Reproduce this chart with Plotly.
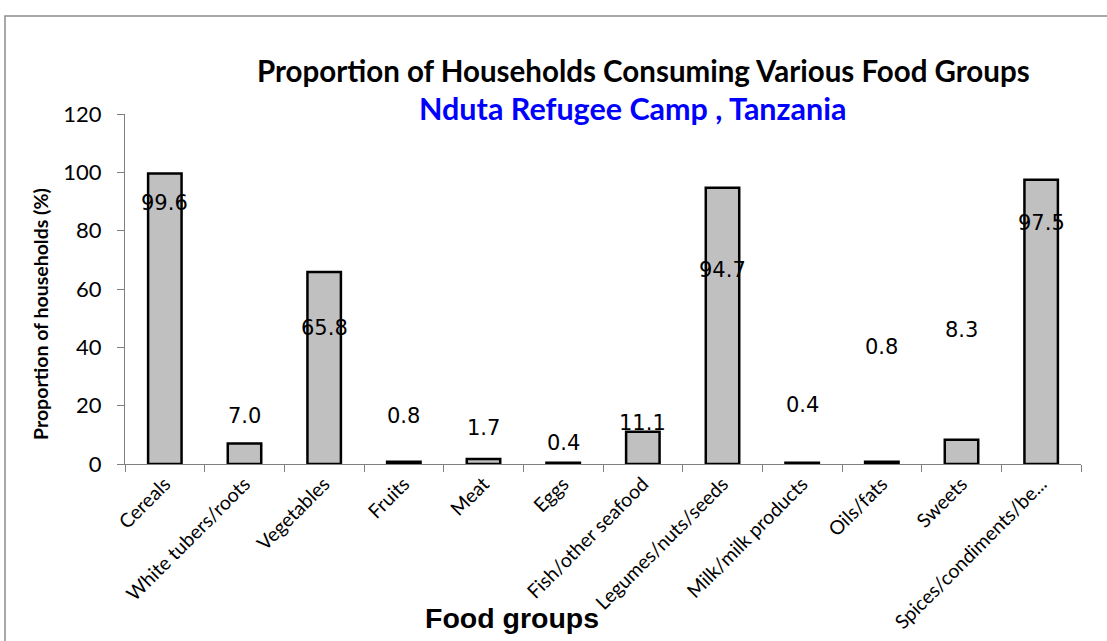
import plotly.graph_objects as go

# Food groups and share of households consuming each (%)
food_groups = [
    "Cereals", "White tubers/roots", "Vegetables", "Fruits", "Meat", "Eggs",
    "Fish/other seafood", "Legumes/nuts/seeds", "Milk/milk products",
    "Oils/fats", "Sweets", "Spices/condiments/be...",
]
proportion = [99.6, 7.0, 65.8, 0.8, 1.7, 0.4, 11.1, 94.7, 0.4, 0.8, 8.3, 97.5]

# Vertical placement of each value label, in axis units
label_y = [89.5, 16.3, 46.6, 16.3, 12.3, 7.2, 14.0, 66.5, 20.2, 40.1, 45.9, 82.6]

W, H = 1107, 641
L, R, T, B = 125, 26, 114, 177
PW, PH = W - L - R, H - T - B


def px_x(p):
    return (p - L) / PW


def px_y(p):
    return (H - B - p) / PH


CAL = "Lato, Calibri, Carlito, sans-serif"

fig = go.Figure(
    go.Bar(
        x=food_groups,
        y=proportion,
        marker=dict(color="#C0C0C0", line=dict(color="black", width=2.5)),
        width=0.42,
        hoverinfo="x+y",
    )
)

annotations = [
    dict(x=g, y=ly, xref="x", yref="y", text=f"{v:.1f}", showarrow=False,
         font=dict(family="DejaVu Sans", size=21, color="black"))
    for g, v, ly in zip(food_groups, proportion, label_y)
]
annotations += [
    dict(x=px_x(643), y=px_y(70), xref="paper", yref="paper", showarrow=False,
         xanchor="center", yanchor="middle",
         text="<b>Proportion of Households Consuming Various Food Groups</b>",
         font=dict(family=CAL, size=29.5, color="black")),
    dict(x=px_x(633), y=px_y(108), xref="paper", yref="paper", showarrow=False,
         xanchor="center", yanchor="middle",
         text="<b>Nduta Refugee Camp , Tanzania</b>",
         font=dict(family=CAL, size=30.5, color="#0000FF")),
    dict(x=px_x(512), y=px_y(618), xref="paper", yref="paper", showarrow=False,
         xanchor="center", yanchor="middle",
         text="<b>Food groups</b>",
         font=dict(family="Liberation Sans, Arial", size=28.5, color="black")),
    dict(x=px_x(40), y=px_y(314), xref="paper", yref="paper", showarrow=False,
         xanchor="center", yanchor="middle",
         text="<b>Proportion of households (%)</b>", textangle=-90,
         font=dict(family=CAL, size=19.5, color="black")),
]

fig.update_layout(
    width=W, height=H,
    margin=dict(l=L, r=R, t=T, b=B, autoexpand=False),
    paper_bgcolor="white", plot_bgcolor="white",
    showlegend=False,
    annotations=annotations,
    shapes=[
        dict(type="rect", xref="paper", yref="paper",
             x0=px_x(5), x1=px_x(1115), y0=px_y(660), y1=px_y(16),
             line=dict(color="#8C8C8C", width=1.5), fillcolor="rgba(0,0,0,0)",
             layer="below"),
    ],
    xaxis=dict(
        showline=True, linecolor="#808080", linewidth=1,
        ticks="outside", ticklen=7, tickcolor="#808080",
        tickson="boundaries", tickangle=-45,
        tickfont=dict(family=CAL, size=19.5, color="black"),
        showgrid=False, zeroline=False,
    ),
    yaxis=dict(
        range=[0, 120], dtick=20,
        showline=True, linecolor="#808080", linewidth=1,
        ticks="outside", ticklen=7, tickcolor="#808080",
        ticklabelstandoff=11,
        tickfont=dict(family=CAL, size=22, color="black"),
        showgrid=False, zeroline=False,
    ),
)

fig.write_html("out.html")
